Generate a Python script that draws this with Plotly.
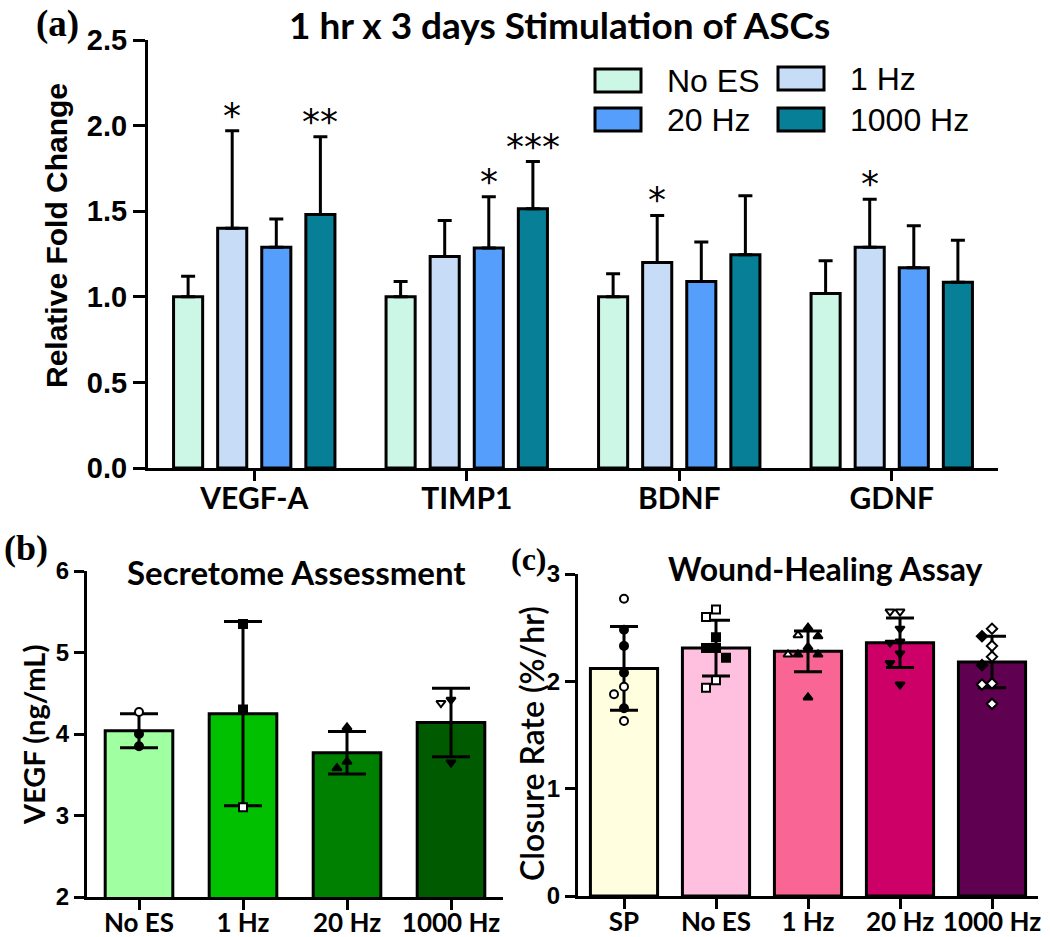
import plotly.graph_objects as go

# ---------------- data ----------------
genes = ["VEGF-A", "TIMP1", "BDNF", "GDNF"]
a_groups = ["No ES", "1 Hz", "20 Hz", "1000 Hz"]
a_noes_mean = [1.00, 1.00, 1.00, 1.02]
a_noes_err = [0.12, 0.09, 0.135, 0.19]
a_1hz_mean = [1.40, 1.235, 1.20, 1.29]
a_1hz_err = [0.57, 0.21, 0.275, 0.28]
a_20hz_mean = [1.29, 1.285, 1.09, 1.17]
a_20hz_err = [0.165, 0.30, 0.23, 0.245]
a_1000hz_mean = [1.48, 1.515, 1.245, 1.085]
a_1000hz_err = [0.455, 0.275, 0.345, 0.245]
a_noes_sig = ["", "", "", ""]
a_1hz_sig = ["*", "", "*", "*"]
a_20hz_sig = ["", "*", "", ""]
a_1000hz_sig = ["**", "***", "", ""]

b_groups = ["No ES", "1 Hz", "20 Hz", "1000 Hz"]
b_mean = [4.04, 4.25, 3.77, 4.14]
b_sd = [0.21, 1.13, 0.26, 0.42]
b_noes_pts = [4.27, 4.00, 3.85]
b_1hz_pts = [5.35, 4.30, 3.10]
b_20hz_pts = [4.08, 3.66, 3.58]
b_1000hz_pts = [4.42, 4.38, 3.65]
b_noes_open = [1, 0, 0]
b_1hz_open = [0, 0, 1]
b_20hz_open = [0, 0, 0]
b_1000hz_open = [0, 1, 0]

c_groups = ["SP", "No ES", "1 Hz", "20 Hz", "1000 Hz"]
c_mean = [2.12, 2.31, 2.28, 2.36, 2.18]
c_sd = [0.39, 0.26, 0.19, 0.23, 0.24]
c_sp_pts = [2.77, 2.48, 2.33, 2.08, 1.95, 1.88, 1.75, 1.63]
c_noes_pts = [2.67, 2.60, 2.41, 2.31, 2.31, 2.22, 2.01, 1.94]
c_1hz_pts = [2.50, 2.43, 2.42, 2.32, 2.25, 2.25, 2.25, 1.85]
c_20hz_pts = [2.65, 2.65, 2.49, 2.37, 2.36, 2.26, 2.17, 1.97]
c_1000hz_pts = [2.49, 2.42, 2.33, 2.23, 2.15, 1.98, 1.97, 1.79]
c_sp_open = [1, 0, 0, 0, 1, 1, 0, 1]
c_noes_open = [1, 1, 0, 0, 0, 0, 1, 1]
c_1hz_open = [0, 1, 0, 0, 0, 0, 1, 0]
c_20hz_open = [1, 1, 0, 0, 0, 0, 0, 0]
c_1000hz_open = [1, 0, 1, 1, 0, 1, 1, 1]

# ---------------- styles ----------------
a_colors = ["#CCF7E6", "#C7DDF7", "#559EFB", "#077F97"]
b_colors = ["#A0FFA0", "#00C000", "#008000", "#005A00"]
c_colors = ["#FFFFE0", "#FFBFDF", "#F96595", "#CC0066", "#600050"]
b_symbols = ["circle", "square", "triangle-up", "triangle-down"]
c_symbols = ["circle", "square", "triangle-up", "triangle-down", "diamond"]

W, H = 1050, 937
def px(x): return x / W
def py(y): return 1 - y / H

CAL = "Lato, 'Open Sans', sans-serif"
ARI = "'Liberation Sans', Arial, sans-serif"
TNR = "'Liberation Serif', 'Times New Roman', serif"
STAR = "'DejaVu Sans', sans-serif"

BARGAP, GROUPGAP = 0.17, 0.34

fig = go.Figure()

# ---------------- panel (a) ----------------
a_means = [a_noes_mean, a_1hz_mean, a_20hz_mean, a_1000hz_mean]
a_errs = [a_noes_err, a_1hz_err, a_20hz_err, a_1000hz_err]
a_sigs = [a_noes_sig, a_1hz_sig, a_20hz_sig, a_1000hz_sig]
idx_a = list(range(len(genes)))
for j, g in enumerate(a_groups):
    fig.add_trace(go.Bar(
        x=idx_a, y=a_means[j], name=g, xaxis="x", yaxis="y",
        marker=dict(color=a_colors[j], line=dict(color="black", width=3)),
        error_y=dict(type="data", symmetric=False, array=a_errs[j],
                     arrayminus=[0] * len(genes), color="black", thickness=3, width=7),
        showlegend=False, offsetgroup=str(j)))

slot = (1 - BARGAP) / len(a_groups)
annotations = []
for j in range(len(a_groups)):
    for i in idx_a:
        s = a_sigs[j][i]
        if s:
            annotations.append(dict(
                x=i + (j - (len(a_groups) - 1) / 2) * slot,
                y=a_means[j][i] + a_errs[j][i], xref="x", yref="y",
                text=s, showarrow=False, yanchor="bottom", yshift=-7,
                font=dict(family=STAR, size=36, color="black")))

# ---------------- beeswarm helper ----------------
def swarm(vals, xunit_px, yunit_px, diam):
    placed = []
    offs = [0.0] * len(vals)
    order = sorted(range(len(vals)), key=lambda k: -vals[k])
    for k in order:
        dx = 0
        for m in [0, -1, 1, -2, 2, -3, 3]:
            dx = m * diam
            if all(not (abs(dx - pdx) < diam and abs((vals[k] - pv) * yunit_px) < diam)
                   for pdx, pv in placed):
                break
        placed.append((dx, vals[k]))
        offs[k] = dx / xunit_px
    return offs

def add_points(pts_list, open_list, symbols, xa, ya, xunit, yunit, size):
    for i, (pts, opn) in enumerate(zip(pts_list, open_list)):
        offs = swarm(pts, xunit, yunit, size + 2)
        fig.add_trace(go.Scatter(
            x=[i + o for o in offs], y=pts, mode="markers", xaxis=xa, yaxis=ya,
            marker=dict(symbol=symbols[i], size=size,
                        color=["white" if o else "black" for o in opn],
                        line=dict(color="black", width=2)),
            showlegend=False, hoverinfo="y"))

# ---------------- panel (b) ----------------
idx_b = list(range(len(b_groups)))
fig.add_trace(go.Bar(
    x=idx_b, y=b_mean, xaxis="x2", yaxis="y2", width=0.65,
    marker=dict(color=b_colors, line=dict(color="black", width=3)),
    error_y=dict(type="data", array=b_sd, color="black", thickness=3, width=19),
    showlegend=False))
add_points([b_noes_pts, b_1hz_pts, b_20hz_pts, b_1000hz_pts],
           [b_noes_open, b_1hz_open, b_20hz_open, b_1000hz_open],
           b_symbols, "x2", "y2", 103.5, 81.5, 8)

# ---------------- panel (c) ----------------
idx_c = list(range(len(c_groups)))
fig.add_trace(go.Bar(
    x=idx_c, y=c_mean, xaxis="x3", yaxis="y3", width=0.73,
    marker=dict(color=c_colors, line=dict(color="black", width=3)),
    error_y=dict(type="data", array=c_sd, color="black", thickness=3, width=14),
    showlegend=False))
add_points([c_sp_pts, c_noes_pts, c_1hz_pts, c_20hz_pts, c_1000hz_pts],
           [c_sp_open, c_noes_open, c_1hz_open, c_20hz_open, c_1000hz_open],
           c_symbols, "x3", "y3", 92.0, 107.3, 8)

# ---------------- axes ----------------
def xax(domain, labels, rng, anchor, fsize, ticklen, standoff):
    return dict(domain=domain, anchor=anchor, range=rng, tickmode="array",
                tickvals=list(range(len(labels))), ticktext=labels,
                showline=True, linewidth=3, linecolor="black", ticks="outside",
                ticklen=ticklen, tickwidth=3, tickcolor="black", showgrid=False,
                zeroline=False, fixedrange=True, automargin=False,
                ticklabelstandoff=standoff,
                tickfont=dict(family=CAL, size=fsize, color="black", weight="bold"))

def yax(domain, rng, dtick, fmt, anchor, fsize, ticklen):
    return dict(domain=domain, anchor=anchor, range=rng, dtick=dtick, tickformat=fmt,
                showline=True, linewidth=3, linecolor="black", ticks="outside",
                ticklen=ticklen, tickwidth=3, tickcolor="black", showgrid=False,
                zeroline=False, fixedrange=True, automargin=False,
                tickfont=dict(family=ARI, size=fsize, color="black", weight="bold"))

fig.update_layout(
    template="none",
    xaxis=xax([px(148), px(998)], genes, [-0.5, 3.5], "y", 30, 10, -8),
    yaxis=yax([py(468), py(40)], [0, 2.5], 0.5, ".1f", "x", 29, 12),
    xaxis2=xax([px(87), px(503)], b_groups, [-0.5, 3.5], "y2", 26, 10, -9),
    yaxis2=yax([py(897), py(571)], [2, 6], 1, "d", "x2", 24, 10),
    xaxis3=xax([px(578), px(1038)], c_groups, [-0.5, 4.5], "y3", 26, 10, -9),
    yaxis3=yax([py(896), py(574)], [0, 3], 1, "d", "x3", 24, 10),
)

# ---------------- text ----------------
def note(x, y, text, family, size, weight="bold", angle=0):
    annotations.append(dict(x=px(x), y=py(y), xref="paper", yref="paper", text=text,
                            showarrow=False, textangle=angle, xanchor="center", yanchor="middle",
                            font=dict(family=family, size=size, color="black", weight=weight)))

note(57, 24, "(a)", TNR, 37)
note(26, 548, "(b)", TNR, 36)
note(529, 559, "(c)", TNR, 32)
note(559, 25, "1 hr x 3 days Stimulation of ASCs", CAL, 37)
note(296, 572, "Secretome Assessment", CAL, 33)
note(825, 568, "Wound-Healing Assay", CAL, 32)
note(56, 236, "Relative Fold Change", ARI, 30, angle=-90)
note(33, 735, "VEGF (ng/mL)", CAL, 29, angle=-90)
note(531, 744, "Closure Rate (%/hr)", CAL, 32, weight=600, angle=-90)

# ---------------- legend (panel a) ----------------
shapes = []
leg_box_x = [595, 778, 595, 778]
leg_box_y = [69, 67, 108, 108]
for j, g in enumerate(a_groups):
    x0, y0 = leg_box_x[j], leg_box_y[j]
    shapes.append(dict(type="rect", xref="paper", yref="paper",
                       x0=px(x0), x1=px(x0 + 46), y0=py(y0 + 23), y1=py(y0),
                       fillcolor=a_colors[j], line=dict(color="black", width=3)))
    annotations.append(dict(x=px(x0 + 70), y=py(y0 + 12), xref="paper", yref="paper",
                            text=g, showarrow=False, xanchor="left", yanchor="middle",
                            font=dict(family=ARI, size=32, color="black")))

fig.update_layout(
    width=W, height=H, margin=dict(l=0, r=0, t=0, b=0, pad=0),
    paper_bgcolor="white", plot_bgcolor="white",
    barmode="group", bargap=BARGAP, bargroupgap=GROUPGAP,
    annotations=annotations, shapes=shapes, showlegend=False,
)

fig.write_html("out.html", config={"displayModeBar": False},
               post_script="document.body.style.margin='0';document.body.style.overflow='hidden';")
